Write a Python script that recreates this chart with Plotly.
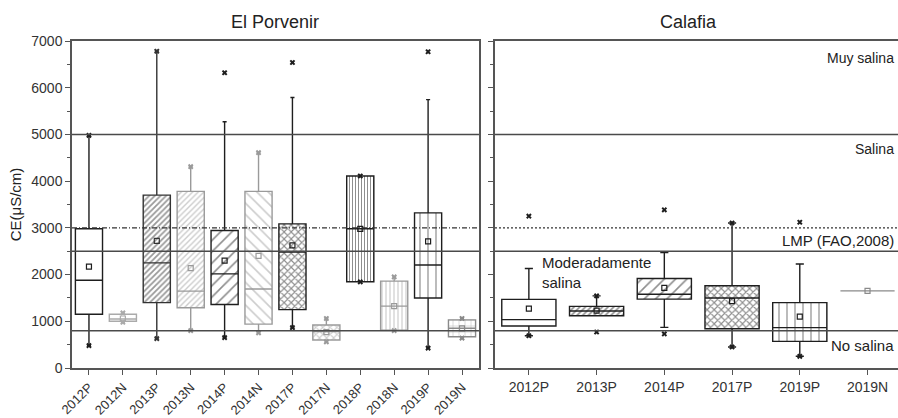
import plotly.graph_objects as go

# ---------------- data ----------------
cats_left = ["2012P", "2012N", "2013P", "2013N", "2014P", "2014N",
             "2017P", "2017N", "2018P", "2018N", "2019P", "2019N"]
q1_left = [1150, 1000, 1400, 1290, 1360, 940, 1250, 600, 1845, 810, 1500, 670]
med_left = [1880, 1050, 2250, 1645, 2015, 1690, 2480, 780, 2980, 1325, 2205, 850]
q3_left = [2980, 1150, 3700, 3780, 2945, 3780, 3085, 920, 4110, 1860, 3320, 1030]
low_left = [480, 980, 630, 800, 650, 750, 865, 560, 1845, 800, 425, 640]
up_left = [4980, 1180, 6780, 4310, 5270, 4610, 5790, 1060, 4110, 1950, 5745, 1060]
mean_left = [2170, 1060, 2720, 2140, 2300, 2400, 2625, 770, 2980, 1325, 2710, 850]
min_left = [480, 980, 630, 800, 650, 750, 865, 560, 1845, 800, 425, 640]
max_left = [4980, 1180, 6780, 4310, 6320, 4610, 6540, 1060, 4110, 1950, 6770, 1060]

cats_right = ["2012P", "2013P", "2014P", "2017P", "2019P", "2019N"]
q1_right = [900, 1120, 1475, 840, 570, 1650]
med_right = [1035, 1220, 1580, 1500, 865, 1650]
q3_right = [1470, 1320, 1915, 1760, 1400, 1650]
low_right = [690, 1120, 870, 450, 250, 1650]
up_right = [2130, 1545, 2470, 3105, 2225, 1650]
mean_right = [1270, 1230, 1715, 1430, 1100, 1650]
min_right = [690, 770, 730, 450, 250, None]
max_right = [3250, 1545, 3385, 3105, 3120, None]

thresholds = [5000, 2500, 800]
lmp_value = 3000

# ---------------- styles ----------------
style_left = {
    "2012P": ("#1e1e1e", "", 6, 0.3),
    "2012N": ("#aaaaaa", "", 6, 0.3),
    "2013P": ("#333333", "/", 4, 0.45),
    "2013N": ("#9a9a9a", "/", 4, 0.35),
    "2014P": ("#1e1e1e", "/", 8, 0.2),
    "2014N": ("#9a9a9a", "\\", 8, 0.2),
    "2017P": ("#1e1e1e", "x", 5, 0.4),
    "2017N": ("#9a9a9a", "x", 5, 0.4),
    "2018P": ("#1e1e1e", "|", 3, 0.35),
    "2018N": ("#9a9a9a", "|", 4, 0.3),
    "2019P": ("#1e1e1e", "|", 8, 0.15),
    "2019N": ("#8a8a8a", "+", 6, 0.2),
}
style_right = {
    "2012P": ("#1e1e1e", "", 6, 0.3),
    "2013P": ("#1e1e1e", "/", 4, 0.4),
    "2014P": ("#1e1e1e", "/", 8, 0.2),
    "2017P": ("#1e1e1e", "x", 5, 0.4),
    "2019P": ("#1e1e1e", "|", 8, 0.15),
    "2019N": ("#8a8a8a", "", 6, 0.3),
}

fig = go.Figure()


def add_panel(cats, q1, med, q3, low, up, mean, mn, mx, styles, xa, ya):
    for i, c in enumerate(cats):
        col, shape, size, sol = styles[c]
        # patterned fill
        fig.add_trace(go.Bar(
            x=[c], y=[q3[i] - q1[i]], base=[q1[i]], width=0.8,
            marker=dict(color="white", line=dict(width=0),
                        pattern=dict(shape=shape, fgcolor=col, bgcolor="white",
                                     size=size, solidity=sol)),
            xaxis=xa, yaxis=ya, showlegend=False, hoverinfo="skip"))
        # box outline, median, whiskers
        fig.add_trace(go.Box(
            x=[c], q1=[q1[i]], median=[med[i]], q3=[q3[i]],
            lowerfence=[low[i]], upperfence=[up[i]],
            width=0.8, whiskerwidth=0.15, boxpoints=False,
            fillcolor="rgba(0,0,0,0)", line=dict(color=col, width=1.4),
            xaxis=xa, yaxis=ya, showlegend=False))
        # mean
        fig.add_trace(go.Scatter(
            x=[c], y=[mean[i]], mode="markers",
            marker=dict(symbol="square-open", size=5, color=col, line=dict(width=1.2)),
            xaxis=xa, yaxis=ya, showlegend=False))
        # min / max
        pts = [v for v in (mn[i], mx[i]) if v is not None]
        if pts:
            fig.add_trace(go.Scatter(
                x=[c] * len(pts), y=pts, mode="markers",
                marker=dict(symbol="x", size=5, color=col, line=dict(width=0)),
                xaxis=xa, yaxis=ya, showlegend=False))


add_panel(cats_left, q1_left, med_left, q3_left, low_left, up_left,
          mean_left, min_left, max_left, style_left, "x", "y")
add_panel(cats_right, q1_right, med_right, q3_right, low_right, up_right,
          mean_right, min_right, max_right, style_right, "x2", "y2")

# reference lines
for xr, yr, dash in (("x domain", "y", "5px,2px,1px,2px"), ("x2 domain", "y2", "2px,2px")):
    for t in thresholds:
        fig.add_shape(type="line", xref=xr, yref=yr, x0=0, x1=1, y0=t, y1=t,
                      line=dict(color="#4a4a4a", width=1.5), layer="above")
    fig.add_shape(type="line", xref=xr, yref=yr, x0=0, x1=1, y0=lmp_value, y1=lmp_value,
                  line=dict(color="#333333", width=1.1, dash=dash), layer="above")

font = "Liberation Sans, Arial, sans-serif"
axis_common = dict(showline=True, linecolor="#555555", linewidth=1.5,
                   ticks="outside", ticklen=5, tickcolor="#555555",
                   showgrid=False, zeroline=False,
                   tickfont=dict(family=font, size=14, color="#333333"))

fig.update_layout(
    width=898, height=418,
    margin=dict(l=72, r=0, t=41, b=48),
    paper_bgcolor="white", plot_bgcolor="white",
    barmode="overlay", boxmode="overlay",
    showlegend=False,
    xaxis=dict(domain=[0, 0.4927], type="category", categoryorder="array",
               categoryarray=cats_left, range=[-0.5, 11.5], tickangle=-45,
               mirror=True, **{**axis_common,
                               "tickfont": dict(family=font, size=13, color="#333333")}),
    yaxis=dict(range=[0, 7000], dtick=1000, mirror=True,
               minor=dict(ticks="outside", dtick=500, ticklen=3, tickcolor="#555555"),
               title=dict(text="CE(μS/cm)", font=dict(family=font, size=15, color="#222222"),
                          standoff=6),
               **axis_common),
    xaxis2=dict(domain=[0.5121, 1], type="category", categoryorder="array",
                categoryarray=cats_right, range=[-0.5, 5.45], tickangle=0,
                mirror=True, anchor="y2", **axis_common),
    yaxis2=dict(range=[0, 7000], dtick=1000, anchor="x2", showticklabels=False,
                minor=dict(ticks="outside", dtick=500, ticklen=3, tickcolor="#555555"),
                **axis_common),
)

ann = [
    dict(text="El Porvenir", xref="x domain", yref="paper", x=0.5, y=1.058, size=18,
         xanchor="center", yanchor="middle"),
    dict(text="Calafia", xref="x2 domain", yref="paper", x=0.48, y=1.058, size=18,
         xanchor="center", yanchor="middle"),
    dict(text="Muy salina", xref="x2 domain", yref="y2", x=0.996, y=6630, size=14,
         xanchor="right", yanchor="middle"),
    dict(text="Salina", xref="x2 domain", yref="y2", x=0.996, y=4680, size=14,
         xanchor="right", yanchor="middle"),
    dict(text="LMP (FAO,2008)", xref="x2 domain", yref="y2", x=0.996, y=2730, size=15,
         xanchor="right", yanchor="middle"),
    dict(text="Moderadamente<br>salina", xref="x2 domain", yref="y2", x=0.112, y=2050,
         size=15, xanchor="left", yanchor="middle", align="left"),
    dict(text="No salina", xref="x2 domain", yref="y2", x=0.996, y=480, size=15,
         xanchor="right", yanchor="middle"),
]
for a in ann:
    fig.add_annotation(text=a["text"], xref=a["xref"], yref=a["yref"], x=a["x"], y=a["y"],
                       xanchor=a["xanchor"], yanchor=a["yanchor"], showarrow=False,
                       align=a.get("align", "center"),
                       font=dict(family=font, size=a["size"], color="#222222"))

fig.write_html("out.html", config={"displayModeBar": False},
               post_script="document.body.style.margin='0';document.body.style.overflow='hidden';")
